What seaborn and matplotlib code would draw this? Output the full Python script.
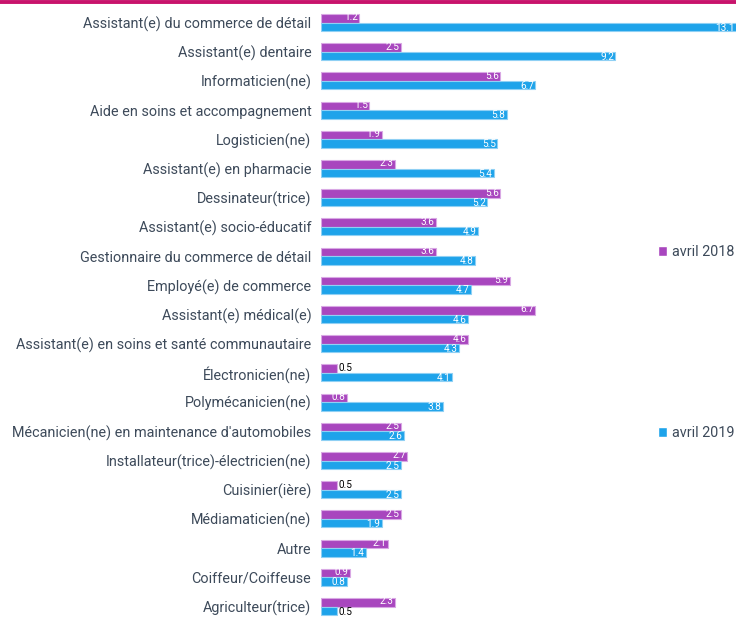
import pandas as pd
import matplotlib.pyplot as plt
import seaborn as sns
from matplotlib.lines import Line2D

categories = [
    "Assistant(e) du commerce de détail",
    "Assistant(e) dentaire",
    "Informaticien(ne)",
    "Aide en soins et accompagnement",
    "Logisticien(ne)",
    "Assistant(e) en pharmacie",
    "Dessinateur(trice)",
    "Assistant(e) socio-éducatif",
    "Gestionnaire du commerce de détail",
    "Employé(e) de commerce",
    "Assistant(e) médical(e)",
    "Assistant(e) en soins et santé communautaire",
    "Électronicien(ne)",
    "Polymécanicien(ne)",
    "Mécanicien(ne) en maintenance d'automobiles",
    "Installateur(trice)-électricien(ne)",
    "Cuisinier(ière)",
    "Médiamaticien(ne)",
    "Autre",
    "Coiffeur/Coiffeuse",
    "Agriculteur(trice)",
]
avril_2018 = [1.2, 2.5, 5.6, 1.5, 1.9, 2.3, 5.6, 3.6, 3.6, 5.9, 6.7,
              4.6, 0.5, 0.8, 2.5, 2.7, 0.5, 2.5, 2.1, 0.9, 2.3]
avril_2019 = [13.1, 9.2, 6.7, 5.8, 5.5, 5.4, 5.2, 4.9, 4.8, 4.7, 4.6,
              4.3, 4.1, 3.8, 2.6, 2.5, 2.5, 1.9, 1.4, 0.8, 0.5]
series = ["avril 2018", "avril 2019"]

df = pd.concat([
    pd.DataFrame({"metier": categories, "valeur": avril_2018, "periode": series[0]}),
    pd.DataFrame({"metier": categories, "valeur": avril_2019, "periode": series[1]}),
])

sns.set_style("white")
plt.rcParams['font.family'] = ['Roboto', 'DejaVu Sans']

colors = {"avril 2018": "#A846BE", "avril 2019": "#1EA3EA"}
edges = {"avril 2018": "#D9A8E4", "avril 2019": "#8FD0F4"}
text_col = "#3D4A5A"
x_max = 12.97

W, H = 736, 617
fig = plt.figure(figsize=(W / 100, H / 100), dpi=100)
top_px, bot_px = 7.9, 621.1
ax = fig.add_axes([321 / W, 1 - bot_px / H, 415 / W, (bot_px - top_px) / H])

sns.barplot(data=df, y="metier", x="valeur", hue="periode", hue_order=series,
            palette=colors, saturation=1, width=0.58, orient="h", ax=ax, legend=True)

for i, (cont, name) in enumerate(zip(ax.containers, series)):
    vals = avril_2018 if name == series[0] else avril_2019
    dy = 0.6 if i == 0 else -0.6
    for bar, val in zip(cont, vals):
        bar.set_edgecolor(edges[name])
        bar.set_linewidth(0.8)
        yc = bar.get_y() + bar.get_height() / 2
        if val <= 0.5:
            ax.annotate(f"{val:.1f}", (val, yc), xytext=(1, dy), textcoords="offset points",
                        ha="left", va="center", fontsize=7.2, color="black")
        else:
            ax.annotate(f"{val:.1f}", (min(val, x_max), yc), xytext=(-1, dy),
                        textcoords="offset points", ha="right", va="center",
                        fontsize=7.2, color="white")

ax.set_xlim(0, x_max)
ax.set_ylim(len(categories) - 0.5, -0.5)
ax.set_xlabel("")
ax.set_ylabel("")
ax.set_xticks([])
ax.tick_params(axis="y", length=0, pad=7, labelsize=10.4, labelcolor=text_col)
for s in ax.spines.values():
    s.set_visible(False)

handles, labels = ax.get_legend_handles_labels()
ax.get_legend().remove()
for h, lab, ypx in zip(handles, labels, [252, 433]):
    fig.legend([h], [lab], loc="center left", bbox_to_anchor=(658 / W, 1 - ypx / H),
               frameon=False, handlelength=0.65, handleheight=0.65, handletextpad=0.35,
               fontsize=10.4, labelcolor=text_col, borderpad=0, borderaxespad=0)

fig.add_artist(Line2D([0, 1], [1 - 1.5 / H, 1 - 1.5 / H], transform=fig.transFigure,
                      color="#C8136B", linewidth=2.8))

fig.savefig("out.png", dpi=100)
